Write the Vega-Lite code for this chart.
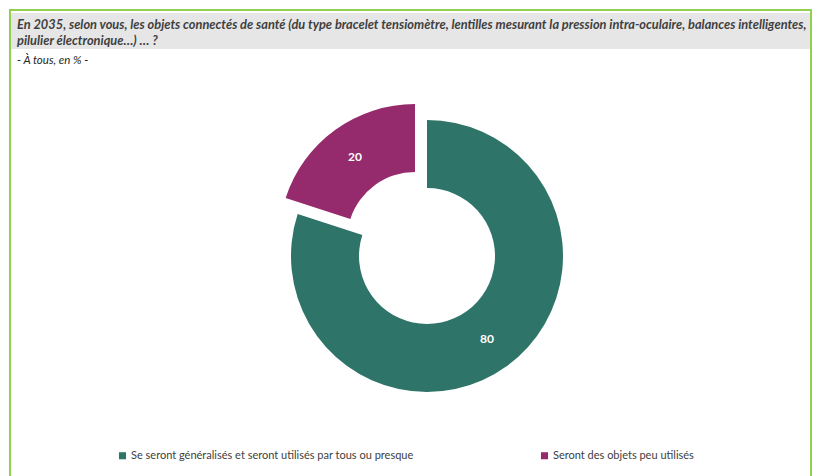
{
  "$schema": "https://vega.github.io/schema/vega-lite/v6.json",
  "width": 801,
  "height": 470,
  "autosize": {"type": "none"},
  "padding": {"left": 10, "top": 10, "right": 9, "bottom": -4},
  "background": "white",
  "config": {"view": {"stroke": "#92D050", "strokeWidth": 2}, "font": "Lato"},
  "title": {
    "text": ["En 2035, selon vous, les objets connectés de santé (du type bracelet tensiomètre, lentilles mesurant la pression intra-oculaire, balances intelligentes,", "pilulier électronique…) … ?"],
    "subtitle": "- À tous, en % -",
    "anchor": "start",
    "frame": "group",
    "orient": "top",
    "offset": -56,
    "dx": 7,
    "font": "Lato",
    "fontSize": 12.8,
    "fontStyle": "italic",
    "fontWeight": "bold",
    "color": "#3F3F3F",
    "lineHeight": 15.5,
    "subtitleFont": "Lato",
    "subtitleFontSize": 11.5,
    "subtitleFontStyle": "italic",
    "subtitleColor": "#262626",
    "subtitlePadding": 7
  },
  "data": {"values": [
    {"categorie": "Se seront généralisés et seront utilisés par tous ou presque", "valeur": 80, "ordre": 1},
    {"categorie": "Seront des objets peu utilisés", "valeur": 20, "ordre": 2}
  ]},
  "layer": [
    {
      "data": {"values": [{"bande": "titre"}]},
      "mark": {"type": "rect", "fill": "#E6E6E6"},
      "encoding": {
        "x": {"value": 1},
        "x2": {"value": 800},
        "y": {"value": 3},
        "y2": {"value": 39}
      }
    },
    {
      "mark": {"type": "arc", "innerRadius": 68, "outerRadius": 136, "xOffset": 16.5, "yOffset": 11},
      "encoding": {
        "theta": {"field": "valeur", "type": "quantitative", "stack": true},
        "order": {"field": "ordre"},
        "color": {
          "field": "categorie", "type": "nominal",
          "scale": {"domain": ["Se seront généralisés et seront utilisés par tous ou presque", "Seront des objets peu utilisés"], "range": ["#2E7468", "#952A6D"]},
          "legend": {
            "orient": "none", "legendX": 107, "legendY": 440, "direction": "horizontal",
            "title": null, "symbolType": "square", "symbolSize": 50, "symbolStrokeWidth": 0, "labelOffset": 3,
            "labelFont": "Lato", "labelFontSize": 11, "labelColor": "#404040", "columnPadding": 125, "labelLimit": 400
          }
        },
        "fillOpacity": {"condition": {"test": "datum.ordre == 1", "value": 1}, "value": 0}
      }
    },
    {
      "mark": {"type": "arc", "innerRadius": 68, "outerRadius": 136, "xOffset": 4.5, "yOffset": -5},
      "encoding": {
        "theta": {"field": "valeur", "type": "quantitative", "stack": true},
        "order": {"field": "ordre"},
        "color": {"field": "categorie", "type": "nominal"},
        "fillOpacity": {"condition": {"test": "datum.ordre == 2", "value": 1}, "value": 0}
      }
    },
    {
      "mark": {"type": "text", "radius": 102, "xOffset": 16.5, "yOffset": 11, "font": "Lato", "fontSize": 12, "fontWeight": "bold", "fill": "white"},
      "encoding": {
        "theta": {"field": "valeur", "type": "quantitative", "stack": true},
        "order": {"field": "ordre"},
        "text": {"field": "valeur", "type": "quantitative"},
        "opacity": {"condition": {"test": "datum.ordre == 1", "value": 1}, "value": 0}
      }
    },
    {
      "mark": {"type": "text", "radius": 102, "xOffset": 4.5, "yOffset": -5, "font": "Lato", "fontSize": 12, "fontWeight": "bold", "fill": "white"},
      "encoding": {
        "theta": {"field": "valeur", "type": "quantitative", "stack": true},
        "order": {"field": "ordre"},
        "text": {"field": "valeur", "type": "quantitative"},
        "opacity": {"condition": {"test": "datum.ordre == 2", "value": 1}, "value": 0}
      }
    }
  ]
}
